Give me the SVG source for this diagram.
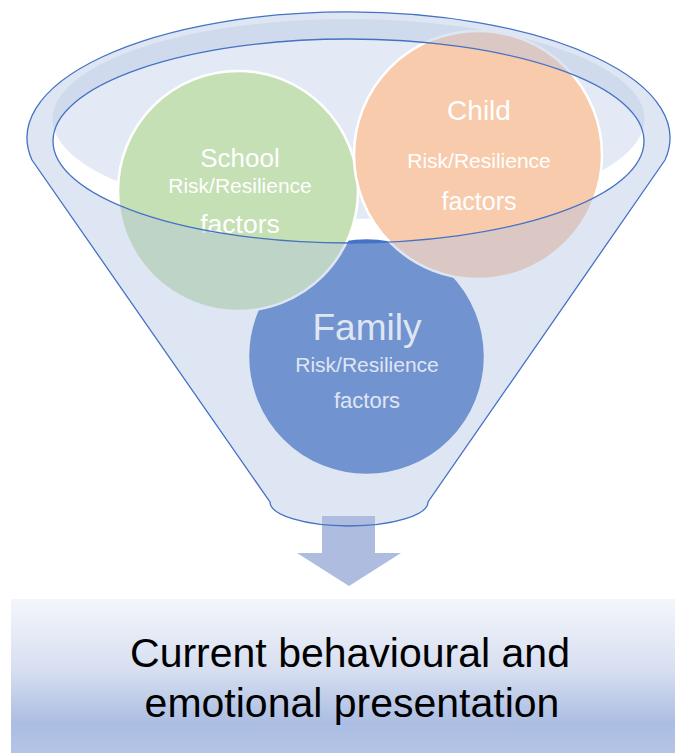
<svg xmlns="http://www.w3.org/2000/svg" width="675" height="753" viewBox="0 0 675 753">
<defs>
<linearGradient id="boxGrad" x1="0" y1="0" x2="0" y2="1">
<stop offset="0" stop-color="#f4f6fb"/>
<stop offset="0.45" stop-color="#d6def0"/>
<stop offset="0.78" stop-color="#abbde2"/>
<stop offset="1" stop-color="#b6c6e7"/>
</linearGradient>
<style>
.circ{stroke:#ffffff;stroke-width:2.5}
.lbl{font-family:"Liberation Sans",Arial,sans-serif;fill:#ffffff;text-anchor:middle}
.edge{fill:none;stroke:#4472c4;stroke-width:1.3}
.big{font-family:"Liberation Sans",Arial,sans-serif;fill:#000000;text-anchor:middle;font-size:41px}
</style>
</defs>
<rect width="675" height="753" fill="#ffffff"/>
<g id="funnel-back">
<ellipse cx="348.5" cy="119" rx="296" ry="100" fill="#e4eaf5"/>
</g>
<g id="family">
<circle class="circ" cx="366.5" cy="356.5" r="118.5" fill="#4472c4"/>
<text class="lbl" x="367" y="340" font-size="37">Family</text>
<text class="lbl" x="367" y="372" font-size="21">Risk/Resilience</text>
<text class="lbl" x="367" y="408" font-size="22">factors</text>
</g>
<g id="school">
<circle class="circ" cx="238" cy="191" r="120" fill="#c5e0b4"/>
<text class="lbl" x="240" y="167" font-size="26">School</text>
<text class="lbl" x="240" y="193" font-size="21">Risk/Resilience</text>
<text class="lbl" x="240" y="233" font-size="26.5">factors</text>
</g>
<g id="child">
<circle class="circ" cx="478" cy="155" r="124" fill="#f8cbad"/>
<text class="lbl" x="479" y="120" font-size="28">Child</text>
<text class="lbl" x="479" y="168" font-size="21">Risk/Resilience</text>
<text class="lbl" x="479" y="210" font-size="25">factors</text>
</g>
<g id="funnel-front">
<path d="M32,160 A321.5,126 0 1 1 665,160 L428,502 A79,24 0 0 1 270,502 Z M53,141 A295.5,102 0 1 0 644,141 A295.5,102 0 1 0 53,141 Z" fill="#b1c2e2" fill-opacity="0.41" fill-rule="evenodd"/>
</g>
<g id="connectors">
<path d="M322,516 H375 V553 H401 L349,586 L297,553 H322 Z" fill="#aebce0"/>
</g>
<g id="funnel-outline">
<path class="edge" d="M32,160 A321.5,126 0 1 1 665,160 L428,502 A79,24 0 0 1 270,502 Z"/>
<ellipse class="edge" cx="348.5" cy="141" rx="295.5" ry="102"/>
</g>
<g id="result">
<rect x="11" y="599" width="670" height="160" fill="url(#boxGrad)"/>
<text class="big" x="350" y="667">Current behavioural and</text>
<text class="big" x="352" y="717">emotional presentation</text>
</g>
</svg>
